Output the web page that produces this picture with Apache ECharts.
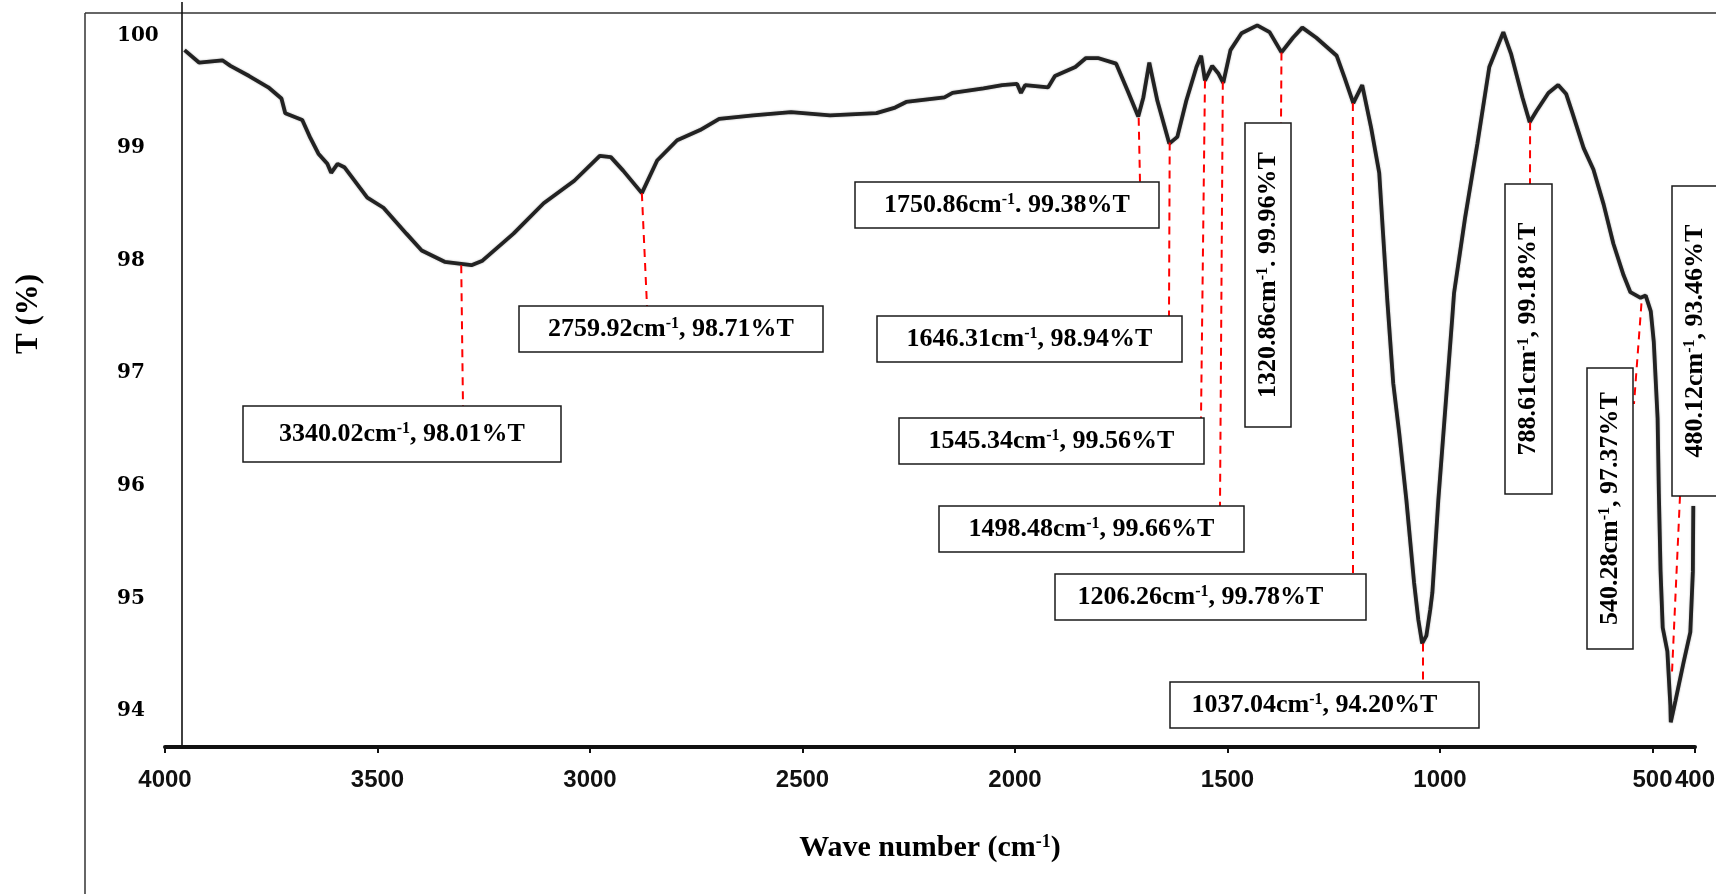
<!DOCTYPE html>
<html>
<head>
<meta charset="utf-8">
<title>FTIR spectrum</title>
<script src="https://cdn.jsdelivr.net/npm/echarts@6.0.0/dist/echarts.min.js"></script>
<style>
  html, body { margin: 0; padding: 0; background: #fff; }
  #chart { width: 1716px; height: 894px; }
</style>
</head>
<body>
<div id="chart"></div>
<script>
// wave number (cm-1) and transmittance (%), left to right
var waveNumber = [3954, 3920, 3865, 3846, 3802, 3757, 3726, 3717, 3677, 3658, 3639, 3618, 3609, 3594, 3578,
  3524, 3486, 3432, 3396, 3342, 3279, 3253, 3180, 3109, 3037, 2977, 2951, 2922, 2878, 2842, 2795, 2741,
  2696, 2616, 2527, 2435, 2326, 2282, 2256, 2166, 2147, 2074, 2030, 1995, 1986, 1976, 1922, 1906, 1858,
  1833, 1805, 1762, 1735, 1710, 1698, 1684, 1665, 1637, 1618, 1597, 1573, 1562, 1553, 1536, 1521, 1510,
  1493, 1467, 1430, 1401, 1373, 1346, 1324, 1291, 1243, 1225, 1204, 1183, 1162, 1143, 1134, 1124, 1110,
  1096, 1079, 1061, 1051, 1042, 1032, 1023, 1018, 1004, 986, 971, 967, 941, 912, 884, 851, 833, 806, 789,
  773, 745, 722, 703, 690, 662, 639, 615, 592, 568, 552, 528, 516, 504, 497, 488, 485, 481, 476, 465, 458,
  457, 446, 427, 411, 405, 404];
var transmittance = [99.87, 99.76, 99.78, 99.73, 99.64, 99.54, 99.44, 99.31, 99.25, 99.09, 98.95, 98.86, 98.78, 98.86, 98.83,
  98.56, 98.47, 98.24, 98.09, 97.99, 97.96, 98.00, 98.24, 98.51, 98.71, 98.93, 98.92, 98.80, 98.60, 98.89, 99.07, 99.16,
  99.26, 99.29, 99.32, 99.29, 99.31, 99.36, 99.41, 99.45, 99.49, 99.53, 99.56, 99.57, 99.49, 99.56, 99.54, 99.64, 99.72,
  99.80, 99.80, 99.75, 99.51, 99.28, 99.45, 99.76, 99.42, 99.04, 99.10, 99.42, 99.72, 99.82, 99.60, 99.73, 99.66, 99.58,
  99.87, 100.02, 100.09, 100.03, 99.85, 99.98, 100.07, 99.98, 99.82, 99.63, 99.40, 99.56, 99.18, 98.78, 98.24, 97.65, 96.91,
  96.47, 95.87, 95.14, 94.81, 94.60, 94.67, 94.90, 95.05, 95.87, 96.76, 97.50, 97.71, 98.38, 99.04, 99.72, 100.03, 99.84, 99.45, 99.23,
  99.33, 99.49, 99.56, 99.48, 99.33, 99.00, 98.81, 98.50, 98.15, 97.87, 97.72, 97.67, 97.69, 97.55, 97.28, 96.60, 95.93, 95.24, 94.74, 94.53, 94.05,
  93.90, 94.09, 94.43, 94.70, 95.24, 95.82];

// tick labels
var xTicks = [4000, 3500, 3000, 2500, 2000, 1500, 1000, 500, 400];
var yTicks = [94, 95, 96, 97, 98, 99, 100];

// marked bands: label text, and the point on the curve where the red line starts
var peakLabels = [
  '3340.02cm{s|-1}, 98.01%T',
  '2759.92cm{s|-1}, 98.71%T',
  '1750.86cm{s|-1}. 99.38%T',
  '1646.31cm{s|-1}, 98.94%T',
  '1545.34cm{s|-1}, 99.56%T',
  '1498.48cm{s|-1}, 99.66%T',
  '1320.86cm{s|-1}. 99.96%T',
  '1206.26cm{s|-1}, 99.78%T',
  '1037.04cm{s|-1}, 94.20%T',
  '788.61cm{s|-1}, 99.18%T',
  '540.28cm{s|-1}, 97.37%T',
  '480.12cm{s|-1}, 93.46%T'
];
var peakWave = [3303, 2878, 1709, 1636, 1553, 1511, 1373, 1205, 1040, 788, 526, 454];
var peakT = [97.96, 98.60, 99.27, 99.05, 99.60, 99.59, 99.85, 99.40, 94.60, 99.23, 97.62, 94.35];

// where the label boxes sit on the page (px), and where each red line meets its box
var boxes = [
  {x: 243, y: 406, w: 318, h: 56, end: [463, 406]},
  {x: 519, y: 306, w: 304, h: 46, end: [647, 306]},
  {x: 855, y: 182, w: 304, h: 46, end: [1140, 182]},
  {x: 877, y: 316, w: 305, h: 46, end: [1169, 316]},
  {x: 899, y: 418, w: 305, h: 46, end: [1201, 418]},
  {x: 939, y: 506, w: 305, h: 46, end: [1220, 506]},
  {x: 1245, y: 123, w: 46, h: 304, end: [1281, 123], vertical: true},
  {x: 1055, y: 574, w: 311, h: 46, end: [1353, 574], dx: -10},
  {x: 1170, y: 682, w: 309, h: 46, end: [1423, 682], dx: -10},
  {x: 1505, y: 184, w: 47, h: 310, end: [1530, 184], vertical: true},
  {x: 1587, y: 368, w: 46, h: 281, end: [1634, 404], vertical: true},
  {x: 1672, y: 186, w: 46, h: 310, end: [1680, 496], vertical: true}
];

var serif = "'Liberation Serif', 'Times New Roman', serif";

var chart = echarts.init(document.getElementById('chart'), null, {renderer: 'canvas'});

var points = [];
for (var i = 0; i < waveNumber.length; i++) {
  points.push([waveNumber[i], transmittance[i]]);
}

var option = {
  animation: false,
  backgroundColor: '#fff',
  grid: {left: 165, right: 21, top: 13, bottom: 147, containLabel: false, outerBoundsMode: 'none'},
  xAxis: {
    type: 'value',
    inverse: true,
    min: 400,
    max: 4000,
    name: 'Wave number (cm{s|-1})',
    nameLocation: 'middle',
    nameGap: 86,
    nameTextStyle: {
      fontFamily: serif, fontWeight: 'bold', fontSize: 30, color: '#000',
      rich: {s: {fontFamily: serif, fontWeight: 'bold', fontSize: 18, color: '#000', verticalAlign: 'top'}}
    },
    axisLine: {show: true, onZero: false, lineStyle: {color: '#111', width: 4}},
    axisTick: {show: true, customValues: xTicks, length: 6, lineStyle: {color: '#111', width: 2}},
    axisLabel: {
      customValues: xTicks,
      showMinLabel: true,
      showMaxLabel: true,
      hideOverlap: false,
      margin: 21,
      formatter: function (v) { return String(v); },
      fontFamily: "'Liberation Sans', Arial, sans-serif",
      fontWeight: 'bold',
      fontSize: 24,
      color: '#111'
    },
    splitLine: {show: false}
  },
  yAxis: {
    type: 'value',
    min: 93.68,
    max: 100.2,
    axisLine: {show: false},
    axisTick: {show: false},
    splitLine: {show: false},
    axisLabel: {
      customValues: yTicks,
      align: 'left',
      margin: 48,
      fontFamily: "'DejaVu Serif', serif",
      fontWeight: 'bold',
      fontSize: 20,
      color: '#000'
    }
  },
  series: [{
    type: 'line',
    data: points,
    showSymbol: false,
    smooth: false,
    lineStyle: {color: '#222', width: 3.8, shadowColor: 'rgba(0,0,0,0.35)', shadowBlur: 2},
    z: 3
  }]
};
chart.setOption(option);

// frame, inner axis line, y title, then the label boxes with their red lines
var els = [
  {type: 'line', shape: {x1: 85, y1: 13, x2: 1716, y2: 13}, style: {stroke: '#333', lineWidth: 1.5}},
  {type: 'line', shape: {x1: 85, y1: 13, x2: 85, y2: 894}, style: {stroke: '#333', lineWidth: 1.5}},
  {type: 'line', shape: {x1: 182, y1: 2, x2: 182, y2: 745}, style: {stroke: '#111', lineWidth: 1.6}},
  {
    type: 'text', x: 29, y: 314, rotation: Math.PI / 2,
    style: {text: 'T (%)', fontFamily: serif, fontWeight: 'bold', fontSize: 31, fill: '#000', align: 'center', verticalAlign: 'middle'}
  }
];
boxes.forEach(function (b, i) {
  var p = chart.convertToPixel({seriesIndex: 0}, [peakWave[i], peakT[i]]);
  els.push({
    type: 'line', z: 5,
    shape: {x1: p[0], y1: p[1], x2: b.end[0], y2: b.end[1]},
    style: {stroke: '#ff0000', lineWidth: 2, lineDash: [8, 6]}
  });
  els.push({
    type: 'rect', z: 6,
    shape: {x: b.x, y: b.y, width: b.w, height: b.h},
    style: {fill: '#fff', stroke: '#1a1a1a', lineWidth: 1.5}
  });
  els.push({
    type: 'text', z: 7,
    x: b.x + b.w / 2 + (b.vertical ? 0 : (b.dx || 0)),
    y: b.y + b.h / 2,
    rotation: b.vertical ? Math.PI / 2 : 0,
    style: {
      text: peakLabels[i], fontFamily: serif, fontWeight: 'bold', fontSize: 26, fill: '#000',
      align: 'center', verticalAlign: 'middle',
      rich: {s: {fontFamily: serif, fontWeight: 'bold', fontSize: 16, fill: '#000', verticalAlign: 'top'}}
    }
  });
});
chart.setOption({graphic: {elements: els}});
</script>
</body>
</html>
